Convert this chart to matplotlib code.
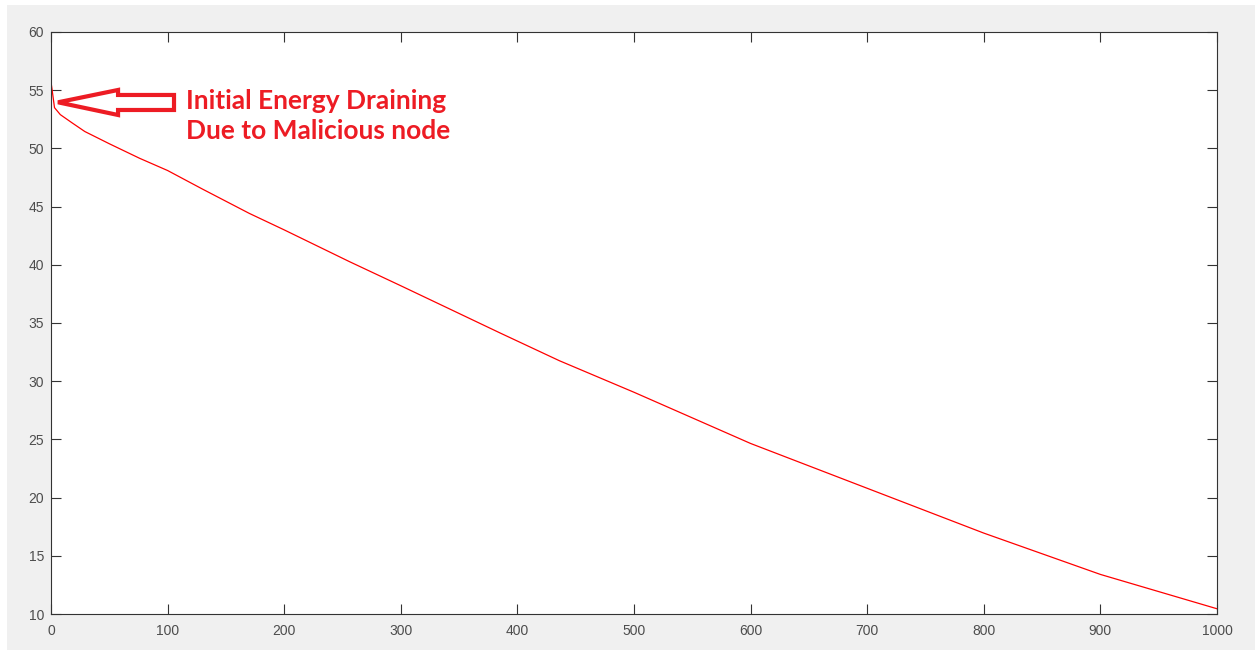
import matplotlib
matplotlib.use('Agg')
import matplotlib.pyplot as plt
from matplotlib.patches import Polygon, Rectangle

# valeurs (energie restante vs temps)
rounds = [0, 1, 3, 8, 18, 29, 50, 76, 100, 130, 170, 200, 256, 300, 342,
          385, 436, 500, 600, 700, 800, 900, 1000]
energy = [55.7, 55.0, 53.5, 52.9, 52.2, 51.45, 50.4, 49.15, 48.1, 46.5, 44.42,
          43.0, 40.27, 38.2, 36.2, 34.15, 31.76, 29.05, 24.65, 20.8, 16.95,
          13.4, 10.45]

x_ticks = list(range(0, 1001, 100))
y_ticks = list(range(10, 61, 5))
note_lines = ["Initial Energy Draining", "Due to Malicious node"]

RED = '#ED1C24'
AXC = '#333333'

fig = plt.figure(figsize=(12.55, 6.52), dpi=100, facecolor='white')
fig.patches.append(Rectangle((7 / 1255, 2 / 652), 1, 1 - 7 / 652,
                             transform=fig.transFigure, facecolor='#F0F0F0',
                             edgecolor='none', zorder=-10))

ax = fig.add_axes([51 / 1255, 38 / 652, 1166 / 1255, 582 / 652])
ax.set_facecolor('white')
ax.plot(rounds, energy, color='red', lw=0.9)

ax.set_xlim(0, 1000)
ax.set_ylim(10, 60)
ax.set_xticks(x_ticks)
ax.set_yticks(y_ticks)
ax.tick_params(direction='in', length=7.5, width=0.8, color=AXC,
               labelcolor='#4D4D4D', labelsize=10, top=True, right=True)
ax.tick_params(axis='x', pad=7)
ax.tick_params(axis='y', pad=5)
for lab in ax.get_xticklabels() + ax.get_yticklabels():
    lab.set_family('Liberation Sans')
for sp in ax.spines.values():
    sp.set_color(AXC)
    sp.set_linewidth(0.8)

# fleche creuse
arrow = Polygon([(6, 53.96), (57.5, 55.02), (57.5, 54.59), (105.5, 54.59),
                 (105.5, 53.30), (57.5, 53.30), (57.5, 52.87)],
                closed=True, facecolor='white', edgecolor=RED, lw=3,
                joinstyle='miter', zorder=5)
ax.add_patch(arrow)

for txt, yy in zip(note_lines, [54.07, 51.5]):
    ax.text(115.5, yy, txt, color=RED, fontsize=19, fontweight='bold',
            family='Lato', va='center', ha='left')

fig.savefig('out.png', dpi=100, facecolor=fig.get_facecolor())
